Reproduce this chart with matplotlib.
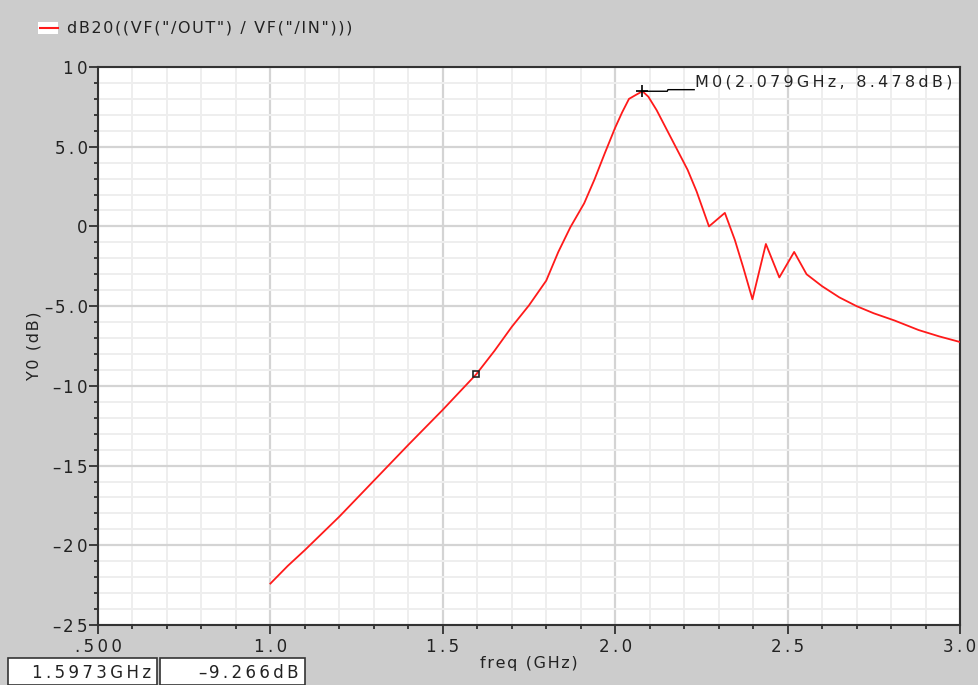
import matplotlib
matplotlib.use("Agg")
import matplotlib.pyplot as plt
from matplotlib.ticker import FixedLocator, FixedFormatter, MultipleLocator
from matplotlib.patches import Rectangle
from matplotlib.lines import Line2D

# dB20(VF("/OUT") / VF("/IN")) sweep, GHz vs dB
freq = [1.0, 1.05, 1.1, 1.2, 1.3, 1.4, 1.5, 1.5973, 1.65, 1.7, 1.75, 1.8,
        1.835, 1.87, 1.91, 1.94, 1.97, 2.0, 2.02, 2.04, 2.06, 2.079, 2.096,
        2.12, 2.15, 2.18, 2.21, 2.236, 2.272, 2.318, 2.347, 2.371, 2.398,
        2.437, 2.476, 2.519, 2.555, 2.6, 2.65, 2.7, 2.75, 2.81, 2.88, 2.94,
        3.0]
gain = [-22.4, -21.3, -20.3, -18.2, -15.95, -13.7, -11.5, -9.266, -7.8,
        -6.3, -4.95, -3.4, -1.6, -0.05, 1.45, 2.95, 4.6, 6.2, 7.15, 8.0, 8.25,
        8.478, 8.14, 7.3, 6.05, 4.8, 3.55, 2.2, 0.0, 0.85, -0.85, -2.55,
        -4.57, -1.1, -3.2, -1.6, -3.0, -3.75, -4.45, -5.0, -5.45, -5.9, -6.5,
        -6.9, -7.25]

trace_name = 'dB20((VF("/OUT") / VF("/IN")))'
m0 = (2.079, 8.478)          # marker M0
cursor = (1.5973, -9.266)    # crosshair readout

xticks = [0.5, 1.0, 1.5, 2.0, 2.5, 3.0]
xticklabels = [".500", "1.0", "1.5", "2.0", "2.5", "3.0"]
yticks = [10, 5, 0, -5, -10, -15, -20, -25]
yticklabels = ["10", "5.0", "0", "-5.0", "-10", "-15", "-20", "-25"]

bg = "#cccccc"
ink = "#222222"
THIN = "\u2009"
HAIR = "\u200a"


def track(s, gap=THIN):
    # the viewer font is widely spaced: pad every glyph
    if s.startswith("-"):
        return "\u2013" + HAIR + gap.join(s[1:])
    return gap.join(s)


fig = plt.figure(figsize=(9.79, 6.85), dpi=100, facecolor=bg)
ax = fig.add_axes([0.1001, 0.0876, 0.8805, 0.8146])
ax.set_facecolor("white")

ax.plot(freq, gain, color="#ff1a1a", lw=1.3, zorder=3)

ax.set_xlim(0.5, 3.0)
ax.set_ylim(-25, 10)
ax.xaxis.set_major_locator(FixedLocator(xticks))
ax.xaxis.set_major_formatter(FixedFormatter([track(t) for t in xticklabels]))
ax.xaxis.set_minor_locator(MultipleLocator(0.1))
ax.yaxis.set_major_locator(FixedLocator(yticks))
ax.yaxis.set_major_formatter(FixedFormatter([track(t) for t in yticklabels]))
ax.yaxis.set_minor_locator(MultipleLocator(1))

ax.grid(which="major", color="#d4d4d4", lw=1.6, zorder=0)
ax.grid(which="minor", color="#eeeeee", lw=1.4, zorder=0)
ax.set_axisbelow(True)

ax.tick_params(which="major", direction="out", length=6.5, width=1.2,
               color=ink, labelsize=12, labelcolor=ink, pad=1)
ax.tick_params(axis="x", which="major", pad=3)
ax.tick_params(which="minor", direction="out", length=3, width=1.2, color=ink)
for s in ax.spines.values():
    s.set_color("#333333")
    s.set_linewidth(1.5)

ax.set_xlabel(track("freq (GHz)", HAIR), fontsize=11.5, color=ink, labelpad=0)
ax.set_ylabel(track("Y0 (dB)", HAIR), fontsize=11.5, color=ink, labelpad=2)

# M0 marker with leader line and label
ax.plot([m0[0]], [m0[1]], marker="+", ms=9, mew=1.2, color="black", zorder=4)
ax.plot([m0[0], m0[0] + 0.072, m0[0] + 0.074, m0[0] + 0.15],
        [m0[1], m0[1], m0[1] + 0.1, m0[1] + 0.1], color="black", lw=1, zorder=4)
ax.text(m0[0] + 0.152, m0[1] + 0.1, track(f"M0({m0[0]:.3f}GHz, {m0[1]:.3f}dB)"),
        fontsize=11.5, color=ink, va="bottom", ha="left")

# cursor point
ax.plot([cursor[0]], [cursor[1]], marker="s", ms=5, mfc="none", mec="#222222",
        mew=1.2, zorder=4)

# legend entry in the title strip
fig.patches.append(Rectangle((38 / 979, 1 - 34 / 685), 20 / 979, 12 / 685,
                             transform=fig.transFigure, facecolor="white",
                             edgecolor="none"))
fig.lines.append(Line2D([40 / 979, 58 / 979], [1 - 28 / 685, 1 - 28 / 685],
                        transform=fig.transFigure, color="#ff1a1a", lw=1.5))
fig.text(67 / 979, 1 - 28 / 685, track(trace_name, HAIR), fontsize=11.5,
         color=ink, va="center", ha="left")

# readout boxes
for x0, x1, label in [(8, 157, f"{cursor[0]:.4f}GHz"),
                      (160, 305, f"{cursor[1]:.3f}dB")]:
    fig.patches.append(Rectangle((x0 / 979, 0), (x1 - x0) / 979, 27 / 685,
                                 transform=fig.transFigure, facecolor="white",
                                 edgecolor="#333333", lw=1.2))
    fig.text((x1 - 6) / 979, 12 / 685, track(label), fontsize=12, color=ink,
             va="center", ha="right")

fig.savefig("out.png", dpi=100, facecolor=bg)
